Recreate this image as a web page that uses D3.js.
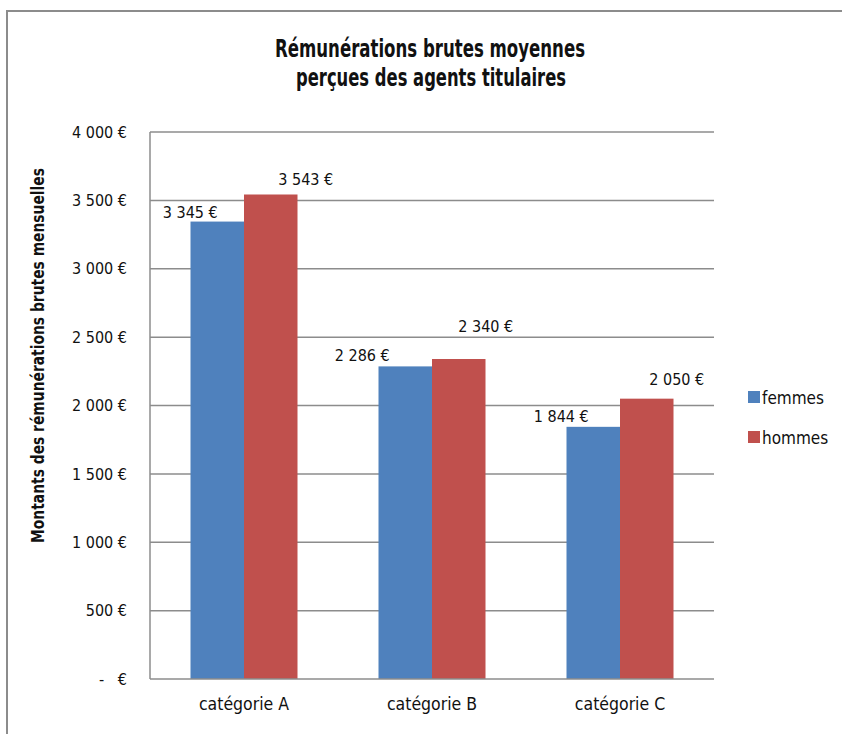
<!DOCTYPE html>
<html><head><meta charset="utf-8">
<script src="https://cdn.jsdelivr.net/npm/d3@7"></script>
<style>
body{margin:0;background:#fff;}
text{font-family:"DejaVu Sans Condensed","Liberation Sans Narrow",sans-serif;fill:#111;}
</style></head>
<body>
<svg id="c" width="842" height="734"></svg>
<script>
const categories = ["catégorie A", "catégorie B", "catégorie C"];
const seriesNames = ["femmes", "hommes"];
const femmes = [3345, 2286, 1844];
const hommes = [3543, 2340, 2050];
const yTicks = [0, 500, 1000, 1500, 2000, 2500, 3000, 3500, 4000];
const colors = ["#4F81BD", "#C0504D"];
// manual label nudges (dx, dy) per series / category, as in the original
const labelNudge = [
  [[-27, -4], [-43, -5], [-32, -5]],
  [[35, -9], [27, -27], [30, -14]]
];
const FONT = '"DejaVu Sans Condensed","Liberation Sans Narrow",sans-serif';

const svg = d3.select("#c");
svg.append("rect").attr("x", 7).attr("y", 11).attr("width", 840).attr("height", 740)
  .attr("fill", "none").attr("stroke", "#8c8c8c").attr("stroke-width", 2);

const m = {l: 150, r: 714, t: 132, b: 679};
const x = d3.scaleBand().domain(categories).range([m.l, m.r]).padding(0);
const y = d3.scaleLinear().domain([0, 4000]).range([m.b, m.t]);
const groupFrac = 107 / 188;
const x1 = d3.scaleBand().domain(seriesNames)
  .range([0, x.bandwidth() * groupFrac]).padding(0);

const fmt = v => v === 0 ? "-   €" : d3.format(",")(v).replace(/,/g, " ") + " €";

// gridlines
svg.append("g").selectAll("line").data(yTicks.filter(d => d > 0)).join("line")
  .attr("x1", m.l).attr("x2", m.r).attr("y1", d => y(d)).attr("y2", d => y(d))
  .attr("stroke", "#8c8c8c").attr("stroke-width", 1.5);

// y axis
const yAxis = d3.axisLeft(y).tickValues(yTicks).tickFormat(fmt).tickSize(0).tickPadding(23);
const gy = svg.append("g").attr("transform", `translate(${m.l},0)`).call(yAxis);
gy.select(".domain").remove();
gy.selectAll("text").style("font-size", "16px").style("font-family", FONT).attr("fill", "#111")
  .style("white-space", "pre").attr("xml:space", "preserve");
svg.append("line").attr("x1", m.l).attr("x2", m.l).attr("y1", m.t).attr("y2", m.b)
  .attr("stroke", "#8c8c8c").attr("stroke-width", 1.5);

// bars
const data = [femmes, hommes];
const groupOffset = (x.bandwidth() - x.bandwidth() * groupFrac) / 2;
seriesNames.forEach((s, si) => {
  const g = svg.append("g");
  g.selectAll("rect").data(data[si]).join("rect")
    .attr("x", (d, i) => x(categories[i]) + groupOffset + x1(s))
    .attr("width", x1.bandwidth())
    .attr("y", d => y(d)).attr("height", d => y(0) - y(d))
    .attr("fill", colors[si]);
  g.selectAll("text").data(data[si]).join("text")
    .attr("x", (d, i) => x(categories[i]) + groupOffset + x1(s) + x1.bandwidth() / 2 + labelNudge[si][i][0])
    .attr("y", (d, i) => y(d) + labelNudge[si][i][1])
    .attr("text-anchor", "middle").style("font-size", "16px")
    .text(d => fmt(d));
});

// x axis
const xAxis = d3.axisBottom(x).tickSize(0).tickPadding(19);
const gx = svg.append("g").attr("transform", `translate(0,${m.b})`).call(xAxis);
gx.select(".domain").remove();
gx.selectAll("text").style("font-size", "17.5px").style("font-family", FONT).attr("fill", "#111");
svg.append("line").attr("x1", m.l).attr("x2", m.r).attr("y1", m.b).attr("y2", m.b)
  .attr("stroke", "#8c8c8c").attr("stroke-width", 1.5);

// title
const t = svg.append("text").attr("text-anchor", "middle")
  .style("font-size", "25px").style("font-weight", "bold");
t.append("tspan").attr("x", 430).attr("y", 57).attr("textLength", 310).attr("lengthAdjust", "spacingAndGlyphs")
  .text("Rémunérations brutes moyennes");
t.append("tspan").attr("x", 431).attr("y", 86).attr("textLength", 270).attr("lengthAdjust", "spacingAndGlyphs")
  .text("perçues des agents titulaires");

// y title
svg.append("text").attr("transform", "translate(44,355.5) rotate(-90)")
  .attr("text-anchor", "middle").style("font-size", "18px").style("font-weight", "bold")
  .attr("textLength", 375).attr("lengthAdjust", "spacingAndGlyphs")
  .text("Montants des rémunérations brutes mensuelles");

// legend
const lg = svg.append("g");
seriesNames.forEach((s, i) => {
  lg.append("rect").attr("x", 748).attr("y", 391 + i * 40).attr("width", 12).attr("height", 12).attr("fill", colors[i]);
  lg.append("text").attr("x", 762).attr("y", 404 + i * 40).style("font-size", "17px").text(s);
});
</script>
</body></html>
